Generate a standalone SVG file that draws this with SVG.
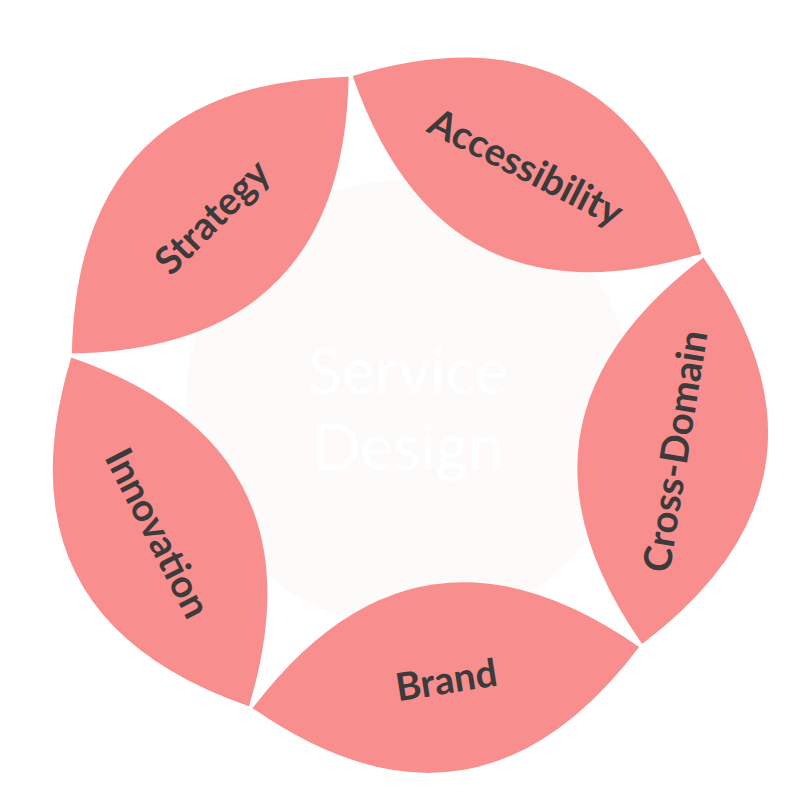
<svg xmlns="http://www.w3.org/2000/svg" width="808" height="808" viewBox="0 0 808 808">
  <style>
    .petal { fill: #f98e8e; }
    .label { font-family: Lato, "Noto Sans", "Liberation Sans", sans-serif; font-weight: bold; font-size: 38.5px; fill: #3d3a3c; text-anchor: middle; }
    .core { fill: #fdfbfa; }
    .core-label { font-family: Lato, "Noto Sans", "Liberation Sans", sans-serif; font-size: 63px; fill: #ffffff; text-anchor: middle; }
  </style>
  <rect width="808" height="808" fill="#ffffff"/>
  <g id="service-design">
    <circle class="core" cx="410" cy="403" r="224"/>
    <text class="core-label" x="408" y="394">Service</text>
    <text class="core-label" x="408" y="470">Design</text>
  </g>
  <g id="strategy">
    <path class="petal" d="M71.86,353.45 Q77.32,82.12 348.65,76.66 Q343.20,348.00 71.86,353.45 Z"/>
    <text class="label" transform="translate(210.26,215.06) rotate(-45)" y="16">Strategy</text>
  </g>
  <g id="accessibility">
    <path class="petal" d="M352.70,76.02 Q612.43,-2.63 701.46,253.73 Q441.73,332.39 352.70,76.02 Z"/>
    <text class="label" transform="translate(527.07,164.88) rotate(27)" y="16">Accessibility</text>
  </g>
  <g id="cross-domain">
    <path class="petal" d="M703.33,257.39 Q858.39,480.09 642.10,643.98 Q487.01,421.27 703.33,257.39 Z"/>
    <text class="label" transform="translate(672.70,450.68) rotate(-81)" y="16">Cross-Domain</text>
  </g>
  <g id="brand">
    <path class="petal" d="M639.18,646.90 Q475.29,863.19 252.59,708.13 Q416.47,491.81 639.18,646.90 Z"/>
    <text class="label" transform="translate(445.88,677.50) rotate(-9)" y="16">Brand</text>
  </g>
  <g id="innovation">
    <path class="petal" d="M248.93,706.26 Q-7.43,617.23 71.22,357.50 Q327.59,446.53 248.93,706.26 Z"/>
    <text class="label" transform="translate(160.08,531.87) rotate(63)" y="16">Innovation</text>
  </g>
</svg>
